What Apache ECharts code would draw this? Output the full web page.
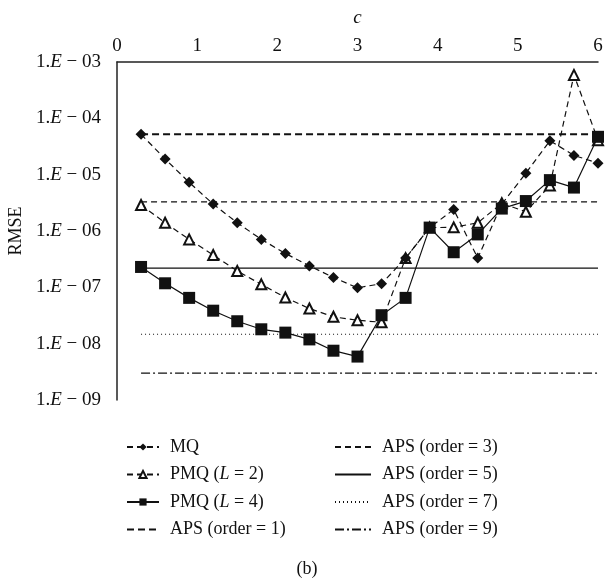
<!DOCTYPE html>
<html>
<head>
<meta charset="utf-8">
<script src="https://cdn.jsdelivr.net/npm/echarts@6/dist/echarts.min.js"></script>
<style>
  html, body { margin: 0; padding: 0; background: #fff; }
  #main { width: 614px; height: 582px; }
</style>
</head>
<body>
<div id="main"></div>
<script>
// shape parameter c
var cValues = [0.3, 0.6, 0.9, 1.2, 1.5, 1.8, 2.1, 2.4, 2.7, 3.0,
  3.3, 3.6, 3.9, 4.2, 4.5, 4.8, 5.1, 5.4, 5.7, 6.0];

// RMSE
var mq = [5.2e-5, 1.9e-5, 7.3e-6, 3.0e-6, 1.4e-6, 7.1e-7, 4.0e-7, 2.4e-7, 1.5e-7, 9.8e-8,
  1.16e-7, 3.3e-7, 1.15e-6, 2.4e-6, 3.3e-7, 3.0e-6, 1.06e-5, 4.0e-5, 2.2e-5, 1.6e-5];
var pmq2 = [2.9e-6, 1.4e-6, 7.1e-7, 3.75e-7, 1.95e-7, 1.13e-7, 6.6e-8, 4.2e-8, 3.0e-8, 2.6e-8,
  2.4e-8, 3.3e-7, 1.15e-6, 1.16e-6, 1.4e-6, 3.1e-6, 2.2e-6, 6.4e-6, 5.9e-4, 4.1e-5];
var pmq4 = [2.3e-7, 1.18e-7, 6.5e-8, 3.85e-8, 2.5e-8, 1.8e-8, 1.57e-8, 1.19e-8, 7.5e-9, 5.9e-9,
  3.2e-8, 6.5e-8, 1.15e-6, 4.2e-7, 8.7e-7, 2.5e-6, 3.4e-6, 8.0e-6, 5.9e-6, 4.7e-5];

// APS constant levels, order 1,3,5,7,9
var apsOrders = [1, 3, 5, 7, 9];
var apsValues = [5.2e-5, 3.3e-6, 2.2e-7, 1.47e-8, 3.0e-9];

var xTicks = [0, 6, 1];          // min, max, interval
var yRange = [1e-9, 1e-3];

var font = 'Liberation Serif';
var chart = echarts.init(document.getElementById('main'));

function pairs(vals) {
  return cValues.map(function (c, i) { return [c, vals[i]]; });
}
function flat(v) {
  return cValues.map(function (c) { return [c, v]; });
}

var apsStyles = [
  { width: 2, type: [7, 4] },
  { width: 1.2, type: [6, 4] },
  { width: 1.2, type: 'solid' },
  { width: 1.2, type: [1, 3] },
  { width: 1.2, type: [9, 3, 2, 3] }
];

var series = [
  {
    name: 'MQ', type: 'line', data: pairs(mq),
    symbol: 'diamond', symbolSize: 11,
    itemStyle: { color: '#111' },
    lineStyle: { color: '#111', width: 1.2, type: [6, 4] },
    z: 5
  },
  {
    name: 'PMQ (L = 2)', type: 'line', data: pairs(pmq2),
    symbol: 'emptyTriangle', symbolSize: 10,
    itemStyle: { color: '#111', borderWidth: 1 },
    lineStyle: { color: '#111', width: 1.2, type: [6, 4] },
    z: 4
  },
  {
    name: 'PMQ (L = 4)', type: 'line', data: pairs(pmq4),
    symbol: 'rect', symbolSize: 12,
    itemStyle: { color: '#111' },
    lineStyle: { color: '#111', width: 1.2 },
    z: 6
  }
];
apsOrders.forEach(function (o, i) {
  series.push({
    name: 'APS (order = ' + o + ')', type: 'line', data: flat(apsValues[i]),
    symbol: 'none', silent: true,
    itemStyle: { color: '#111' },
    lineStyle: { color: '#111', width: apsStyles[i].width, type: apsStyles[i].type },
    z: 2
  });
});

var axisRich = {
  n: { fontFamily: font, fontSize: 19, color: '#111' },
  i: { fontFamily: font, fontSize: 19, color: '#111', fontStyle: 'italic' }
};
var legendRich = {
  n: { fontFamily: font, fontSize: 18, color: '#111', lineHeight: 20 },
  i: { fontFamily: font, fontSize: 18, color: '#111', fontStyle: 'italic', lineHeight: 20 }
};

function legendFmt(name) {
  var m = name.match(/^PMQ \(L = (\d)\)$/);
  if (m) return '{n|PMQ (}{i|L}{n| = ' + m[1] + ')}';
  return '{n|' + name + '}';
}

// APS lines have no marker, so hide the legend symbol for them
function legendItems(names) {
  return names.map(function (n) {
    return n.indexOf('APS') === 0 ? { name: n, itemStyle: { opacity: 0 } } : { name: n };
  });
}

var legendCommon = {
  orient: 'vertical',
  top: 433,
  itemHeight: 9,
  itemGap: 9.5,
  formatter: legendFmt,
  textStyle: { rich: legendRich, padding: [0, 0, 0, 6] },
  selectedMode: false
};

chart.setOption({
  animation: false,
  grid: { left: 117, right: 16, top: 62, bottom: 182, outerBoundsMode: 'none' },
  title: {
    text: '(b)', left: 'center', top: 555,
    textStyle: { fontFamily: font, fontSize: 18, fontWeight: 'normal', color: '#111' }
  },
  legend: [
    Object.assign({ left: 121, itemWidth: 32, data: legendItems(['MQ', 'PMQ (L = 2)', 'PMQ (L = 4)', 'APS (order = 1)']) }, legendCommon),
    Object.assign({ left: 329, itemWidth: 36, data: legendItems(['APS (order = 3)', 'APS (order = 5)', 'APS (order = 7)', 'APS (order = 9)']) }, legendCommon)
  ],
  xAxis: {
    type: 'value', position: 'top',
    min: xTicks[0], max: xTicks[1], interval: xTicks[2],
    name: 'c', nameLocation: 'middle', nameGap: 35,
    nameTextStyle: { fontFamily: font, fontSize: 19, fontStyle: 'italic', color: '#111' },
    axisLine: { show: true, lineStyle: { color: '#222', width: 1.5 } },
    axisTick: { show: false },
    splitLine: { show: false },
    axisLabel: { fontFamily: font, fontSize: 19, color: '#111', margin: 6 }
  },
  yAxis: {
    type: 'log', logBase: 10, min: yRange[0], max: yRange[1],
    name: 'RMSE', nameLocation: 'middle', nameGap: 88, nameRotate: 90,
    nameTextStyle: { fontFamily: font, fontSize: 18, color: '#111' },
    axisLine: { show: true, lineStyle: { color: '#222', width: 1.5 } },
    axisTick: { show: false },
    splitLine: { show: false },
    axisLabel: {
      margin: 16,
      formatter: function (v) {
        var e = Math.round(-Math.log10(v));
        return '{n|1.}{i|E}{n| \u2212 0' + e + '}';
      },
      rich: axisRich
    }
  },
  series: series
});
</script>
</body>
</html>
